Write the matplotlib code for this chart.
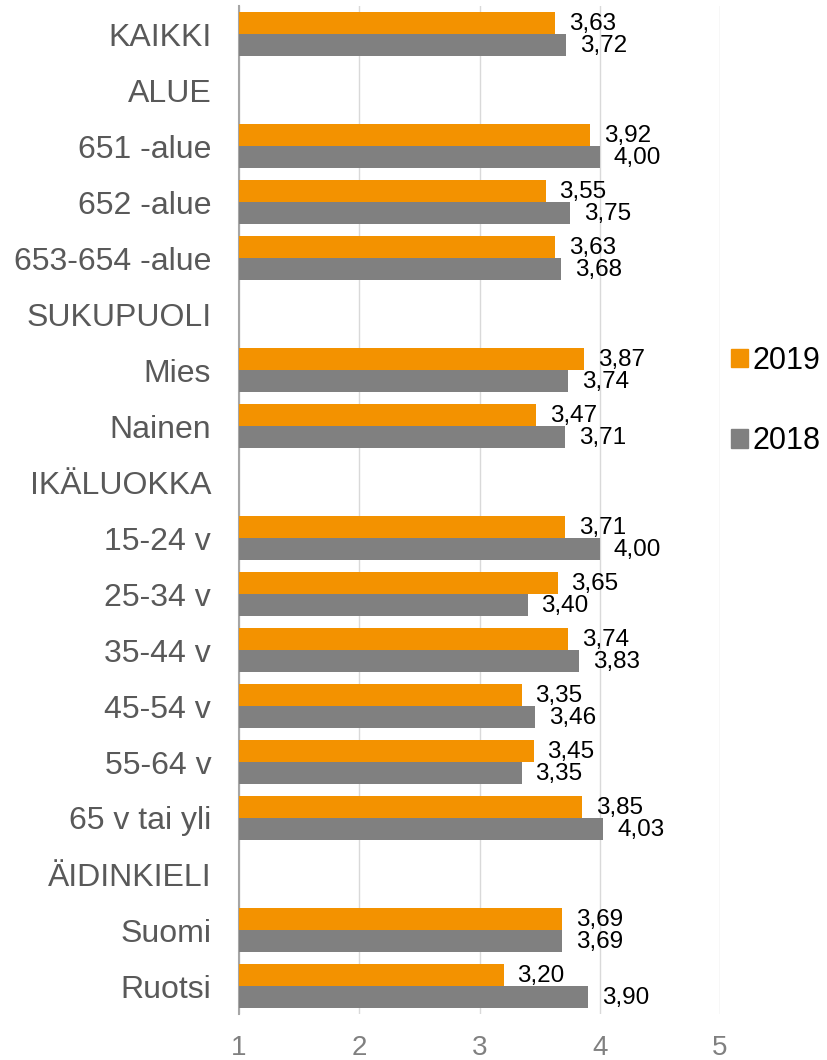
import matplotlib.pyplot as plt
import matplotlib.patches as mpatches
import numpy as np

plt.rcParams['font.family'] = ['Liberation Sans', 'DejaVu Sans']

categories = ['KAIKKI', 'ALUE', '651 -alue', '652 -alue', '653-654 -alue',
              'SUKUPUOLI', 'Mies', 'Nainen', 'IKÄLUOKKA', '15-24 v', '25-34 v',
              '35-44 v', '45-54 v', '55-64 v', '65 v tai yli', 'ÄIDINKIELI',
              'Suomi', 'Ruotsi']
nan = np.nan
v2019 = [3.63, nan, 3.92, 3.55, 3.63, nan, 3.87, 3.47, nan, 3.71, 3.65,
         3.74, 3.35, 3.45, 3.85, nan, 3.69, 3.20]
v2018 = [3.72, nan, 4.00, 3.75, 3.68, nan, 3.74, 3.71, nan, 4.00, 3.40,
         3.83, 3.46, 3.35, 4.03, nan, 3.69, 3.90]
xticks = [1, 2, 3, 4, 5]

c2019 = '#F39200'
c2018 = '#808080'

fig = plt.figure(figsize=(8.27, 10.60), dpi=100)
ax = fig.add_axes([239/827, 46/1060, 481/827, 1008/1060])

y = np.arange(len(categories))
h = 0.393
a19 = np.array(v2019)
a18 = np.array(v2018)
ax.barh(y - h/2, a19 - 1, left=1, height=h, color=c2019, zorder=3)
ax.barh(y + h/2, a18 - 1, left=1, height=h, color=c2018, zorder=3)

for yy, v in zip(y, v2019):
    if not np.isnan(v):
        ax.annotate(f'{v:.2f}'.replace('.', ','), (v, yy - h/2), xytext=(10, -1),
                    textcoords='offset points', va='center', ha='left',
                    fontsize=17.5, color='black')
for yy, v in zip(y, v2018):
    if not np.isnan(v):
        ax.annotate(f'{v:.2f}'.replace('.', ','), (v, yy + h/2), xytext=(10, -1),
                    textcoords='offset points', va='center', ha='left',
                    fontsize=17.5, color='black')

ax.set_xlim(1, 5)
ax.set_ylim(len(categories) - 0.5, -0.5)
ax.set_yticks(y, labels=categories)
ax.set_xticks(xticks, labels=[str(t) for t in xticks])
ax.tick_params(axis='y', length=0, pad=20, labelsize=23, labelcolor='#595959')
ax.tick_params(axis='x', length=0, pad=15, labelsize=20, labelcolor='#808080')
ax.grid(axis='x', color='#D9D9D9', linewidth=1, zorder=0)
for s in ['top', 'right', 'bottom']:
    ax.spines[s].set_visible(False)
ax.spines['left'].set_color('#A6A6A6')
ax.spines['left'].set_linewidth(1.5)

handles = [mpatches.Patch(color=c2019, label='2019'),
           mpatches.Patch(color=c2018, label='2018')]
fig.legend(handles=handles, loc='center left', bbox_to_anchor=(731/827, 1 - 401/1060),
           frameon=False, fontsize=22, handlelength=0.55, handleheight=0.55,
           handletextpad=0.15, labelspacing=1.65, borderaxespad=0, borderpad=0)

fig.savefig('out.png', dpi=100)
